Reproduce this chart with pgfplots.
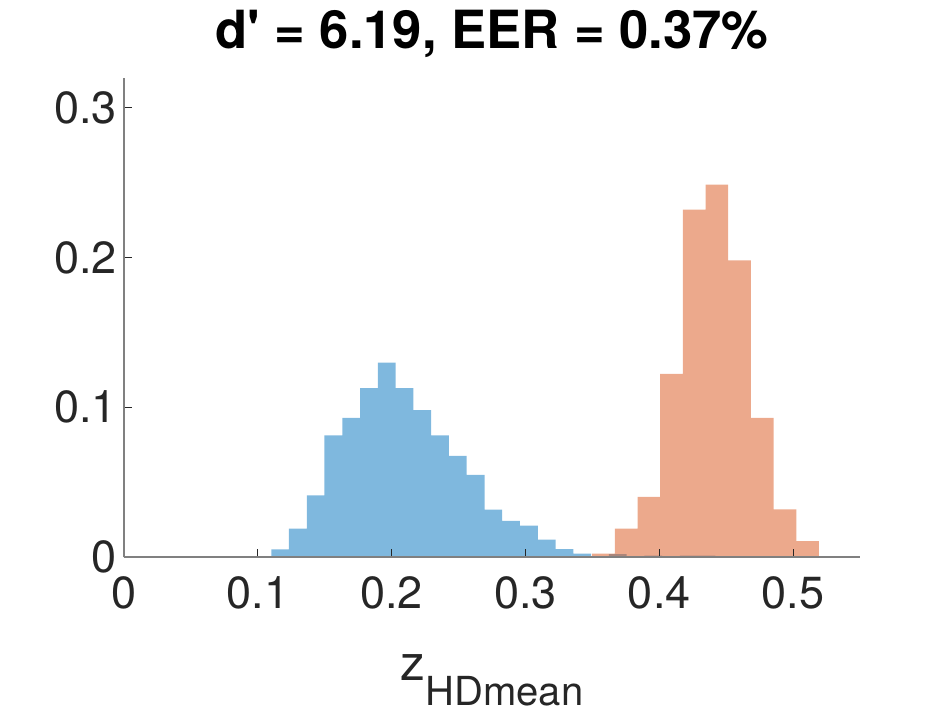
\documentclass[border=0pt]{standalone}
\usepackage{fontspec}
\setmainfont{TeX Gyre Heros}
\usepackage{pgfplots}
\pgfplotsset{compat=1.18}
\definecolor{mblue}{rgb}{0,0.447,0.741}
\definecolor{morange}{rgb}{0.85,0.325,0.098}
\definecolor{txt}{RGB}{38,38,38}
\pgfplotstableread{
x y
0.1101 0.0051
0.1233 0.0189
0.1366 0.0411
0.1498 0.0813
0.1631 0.0929
0.1764 0.1129
0.1897 0.1298
0.2030 0.1129
0.2162 0.0982
0.2295 0.0813
0.2428 0.0676
0.2561 0.0549
0.2694 0.0316
0.2826 0.0242
0.2959 0.0209
0.3092 0.0116
0.3225 0.0053
0.3358 0.0022
0.3490 0
0.3623 0.0020
0.3756 0
0.3889 0.0010
0.4022 0
0.4154 0.0010
0.4287 0.0010
0.4420 0
}\genuine
\pgfplotstableread{
x y
0.3499 0.0022
0.3668 0.0190
0.3838 0.0401
0.4007 0.1223
0.4177 0.2321
0.4346 0.2487
0.4515 0.1982
0.4685 0.0930
0.4854 0.0319
0.5024 0.0106
0.5193 0
}\impostor
\begin{document}
\begin{tikzpicture}
\path[use as bounding box] (-62pt,-78.5pt) rectangle (414pt,278.5pt);
\begin{axis}[
 at={(0pt,0pt)}, anchor=south west,
 scale only axis, width=368pt, height=239.5pt,
 xmin=0, xmax=0.55, ymin=0, ymax=0.32,
 axis lines*=left,
 axis line style={draw=black!50, line width=0.6pt},
 xtick={0,0.1,0.2,0.3,0.4,0.5}, ytick={0,0.1,0.2,0.3},
 tick align=inside, major tick length=4pt,
 tick style={draw=txt, line width=0.5pt},
 ticklabel style={font=\fontsize{22.5}{26}\selectfont, text=txt},
 /pgf/number format/assume math mode=true,
 /pgf/number format/fixed,
 xticklabel style={yshift=-6.5pt},
 title={\fontsize{26.3}{30}\selectfont\bfseries d\textquotesingle{} = 6.19, EER = 0.37\%},
 title style={at={(0.5,1)}, anchor=base, yshift=9pt},
 xlabel={\fontsize{24.75}{28}\selectfont z\raisebox{-12.5pt}{\fontsize{20}{24}\selectfont HDmean}},
 xlabel style={at={(axis description cs:0.5,0)}, anchor=base, yshift=-61.5pt, text=txt},
 axis on top,
]
\addplot[ybar interval, fill=mblue, fill opacity=0.5, draw=none] table[x=x,y=y] {\genuine};
\addplot[ybar interval, fill=morange, fill opacity=0.5, draw=none] table[x=x,y=y] {\impostor};
\end{axis}
\end{tikzpicture}
\end{document}
